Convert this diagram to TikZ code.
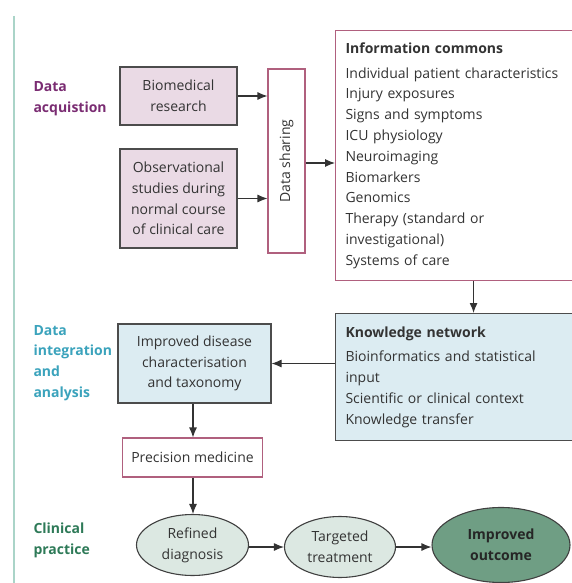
\documentclass[tikz,border=0pt]{standalone}
\usepackage{fontspec}
\setmainfont{Open Sans}
\usetikzlibrary{arrows.meta,shapes.geometric}
\definecolor{txtgrey}{HTML}{333333}
\definecolor{acqpurple}{HTML}{7A2C72}
\definecolor{intteal}{HTML}{3BA3BC}
\definecolor{clingreen}{HTML}{2E7A58}
\definecolor{pinkfill}{HTML}{EADAE5}
\definecolor{pinkline}{HTML}{B0607E}
\definecolor{bluefill}{HTML}{DCECF2}
\definecolor{sagefill}{HTML}{DCE8E2}
\definecolor{sagedark}{HTML}{6F9E84}
\definecolor{rulegreen}{HTML}{AAD4C8}
\begin{document}
\begin{tikzpicture}[x=1pt,y=-1pt,>={Latex[length=10pt,width=8pt]},
  font=\fontsize{14}{20.8}\selectfont,text=txtgrey]
\tikzset{
  srcbox/.style={draw=black!70,fill=pinkfill,line width=1.1pt,align=center,inner sep=0pt},
  pinkbox/.style={draw=pinkline,line width=1.1pt,inner sep=0pt},
  bluebox/.style={draw=black!70,fill=bluefill,line width=1.1pt,inner sep=0pt},
  stage/.style={draw=black!75,fill=sagefill,line width=1.1pt,shape=ellipse,align=center,inner sep=0pt},
  phase/.style={anchor=west,align=left,font=\fontsize{14}{20.8}\selectfont\bfseries},
  flow/.style={->,line width=1.1pt,black!80}
}
\useasboundingbox (0,0) rectangle (571,583);
\draw[rulegreen,line width=2pt] (14,16) -- (14,583);
% phase labels
\node[phase,text=acqpurple] (acq) at (30,99) {Data\\acquistion};
\node[phase,text=intteal] (int) at (30,363) {Data\\integration\\and\\analysis};
\node[phase,text=clingreen] (clin) at (30,540) {Clinical\\practice};
% data acquisition
\node[srcbox,minimum width=117,minimum height=58] (bio) at (178.5,96) {Biomedical\\research};
\node[srcbox,minimum width=117,minimum height=99] (obs) at (178.5,198.5) {Observational\\studies during\\normal course\\of clinical care};
\node[pinkbox,minimum width=37,minimum height=184] (share) at (286.5,161) {};
\node[rotate=90] (sharetxt) at (share.center) {Data sharing};
\node[pinkbox,anchor=north west,minimum width=236,minimum height=250,
  text width=218,align=left,inner xsep=10pt] (info) at (335,30)
  {\textbf{Information commons}\\[4pt]
   Individual patient characteristics\\
   Injury exposures\\
   Signs and symptoms\\
   ICU physiology\\
   Neuroimaging\\
   Biomarkers\\
   Genomics\\
   Therapy (standard or\\
   investigational)\\
   Systems of care};
% integration and analysis
\node[bluebox,anchor=north west,minimum width=236,minimum height=127,
  text width=218,align=left,inner xsep=10pt] (know) at (335,313)
  {\textbf{Knowledge network}\\[4pt]
   Bioinformatics and statistical\\
   input\\
   Scientific or clinical context\\
   Knowledge transfer};
\node[bluebox,align=center,minimum width=153,minimum height=79] (dis) at (194.5,363.5)
  {Improved disease\\characterisation\\and taxonomy};
\node[pinkbox,minimum width=140,minimum height=39] (prec) at (192.5,457.5) {Precision medicine};
% clinical practice
\node[stage,minimum width=112,minimum height=61] (ref) at (192.5,545) {Refined\\diagnosis};
\node[stage,minimum width=111,minimum height=61] (tgt) at (340,547) {Targeted\\treatment};
\node[stage,fill=sagedark,text=black!85,font=\fontsize{14}{20.8}\selectfont\bfseries,
  minimum width=138,minimum height=75] (out) at (501,545) {Improved\\outcome};
% connectors
\draw[flow] (bio.east) -- (bio.east -| share.west);
\draw[flow] (obs.east) -- (obs.east -| share.west);
\draw[flow] (share.east |- 0,163) -- (info.west |- 0,163);
\draw[flow] ([xshift=19pt]info.south) -- ([xshift=19pt]info.south |- know.north);
\draw[flow] (know.west |- dis.east) -- (dis.east);
\draw[flow] (dis.south -| 193,0) -- (prec.north -| 193,0);
\draw[flow] (prec.south -| 193,0) -- (ref.north -| 193,0);
\draw[flow] (ref.east |- 0,547) -- (tgt.west);
\draw[flow] (tgt.east) -- (out.west |- 0,547);
\end{tikzpicture}
\end{document}
